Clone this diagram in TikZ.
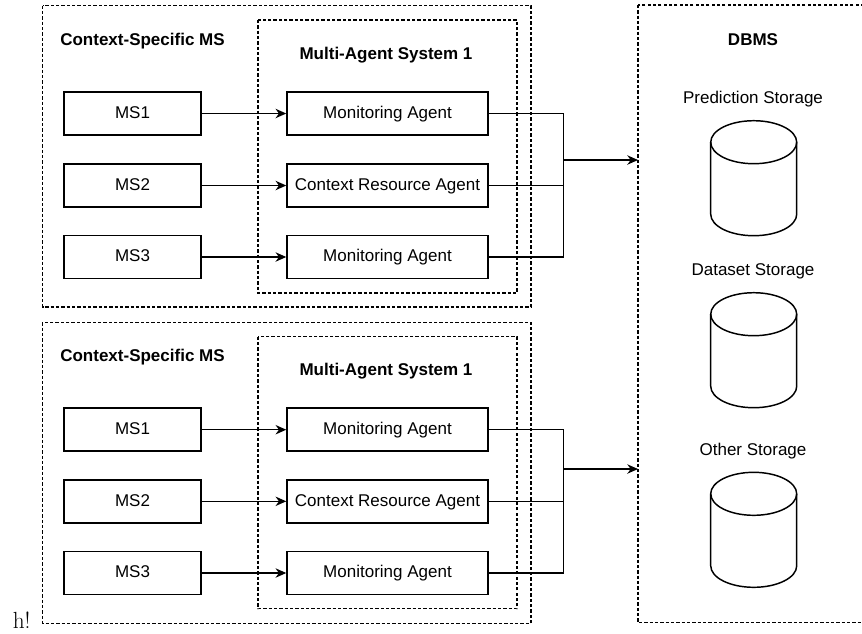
\documentclass[tikz,border=0pt]{standalone}
\usepackage{fontspec}
\newfontfamily\arial{Liberation Sans}
\usepackage{tikz}
\usetikzlibrary{arrows.meta}

\begin{document}
\begin{tikzpicture}[
  x=0.75pt, y=-0.75pt,
  font=\arial\fontsize{12.75}{15}\selectfont,
  every node/.style={text height=0.72em, text depth=0pt},
  box/.style={draw, line width=1.1pt, minimum height=32.25pt, inner sep=0pt},
  msbox/.style={box, minimum width=102.75pt},
  agentbox/.style={box, minimum width=150.75pt},
  frame/.style={draw, line width=0.8pt, dash pattern=on 2.4pt off 1.6pt},
  title/.style={font=\arial\bfseries\fontsize{12.75}{15}\selectfont},
  link/.style={line width=1.1pt},
  arr/.style={link, -{Stealth[length=8pt, width=7pt, inset=2.5pt]}},
  storage/.pic={
    \draw[line width=1.1pt] (-43,0) -- (-43,72)
      arc[start angle=180, end angle=0, x radius=43, y radius=21.5] -- (43,0);
    \draw[line width=1.1pt] (0,0) ellipse[x radius=43, y radius=21.5];
  }
]
\useasboundingbox (0,0) rectangle (862,633);

% upper group
\draw[frame] (42.7,5.7) rectangle (531,307);
\draw[frame] (258,20) rectangle (517,293);
\node[title] (csm1) at (142.5,41) {Context-Specific MS};
\node[title] (mas1) at (386,55) {Multi-Agent System 1};

\node[msbox] (ms1) at (132.5,113.5) {MS1};
\node[msbox] (ms2) at (132.5,185.5) {MS2};
\node[msbox] (ms3) at (132.5,257) {MS3};
\node[agentbox] (mon1) at (387.5,113.5) {Monitoring Agent};
\node[agentbox] (cra1) at (387.5,185.5) {Context Resource Agent};
\node[agentbox] (mon2) at (387.5,257) {Monitoring Agent};

% lower group
\draw[frame] (42.7,322.3) rectangle (531,623.3);
\draw[frame] (258,336.7) rectangle (517,608.7);
\node[title] (csm2) at (142.5,356.7) {Context-Specific MS};
\node[title] (mas2) at (386,371) {Multi-Agent System 1};

\node[msbox] (ms4) at (132.5,429.7) {MS1};
\node[msbox] (ms5) at (132.5,501.3) {MS2};
\node[msbox] (ms6) at (132.5,573) {MS3};
\node[agentbox] (mon3) at (387.5,429.7) {Monitoring Agent};
\node[agentbox] (cra2) at (387.5,501.3) {Context Resource Agent};
\node[agentbox] (mon4) at (387.5,573) {Monitoring Agent};

% DBMS
\draw[frame] (638,5) rectangle (880,622.7);
\coordinate (dbw) at (638,0);
\node[title] (dbms) at (753,41) {DBMS};
\node (pred) at (753,98.3) {Prediction Storage};
\node (data) at (753,271) {Dataset Storage};
\node (other) at (753,450.7) {Other Storage};
\pic (cyl1) at (753.7,142.2) {storage};
\pic (cyl2) at (753.7,314.2) {storage};
\pic (cyl3) at (753.7,493.8) {storage};

% connections
\draw[arr] (ms1) -- (mon1);
\draw[arr] (ms2) -- (cra1);
\draw[arr] (ms3) -- (mon2);
\draw[arr] (ms4) -- (mon3);
\draw[arr] (ms5) -- (cra2);
\draw[arr] (ms6) -- (mon4);

\coordinate (j1) at (563.3,160);
\coordinate (j2) at (563.3,469);
\draw[link] (mon1.east) -| (j1);
\draw[link] (mon2.east) -| (j1);
\draw[link] (cra1.east) -- (cra1.east -| j1);
\draw[arr] (j1) -- (j1 -| dbw);
\draw[link] (mon3.east) -| (j2);
\draw[link] (mon4.east) -| (j2);
\draw[link] (cra2.east) -- (cra2.east -| j2);
\draw[arr] (j2) -- (j2 -| dbw);

\node[font=\rmfamily\fontsize{17.5}{20}\selectfont, anchor=base west, inner sep=0pt] (hmark) at (12.5,628) {h!};
\end{tikzpicture}
\end{document}
